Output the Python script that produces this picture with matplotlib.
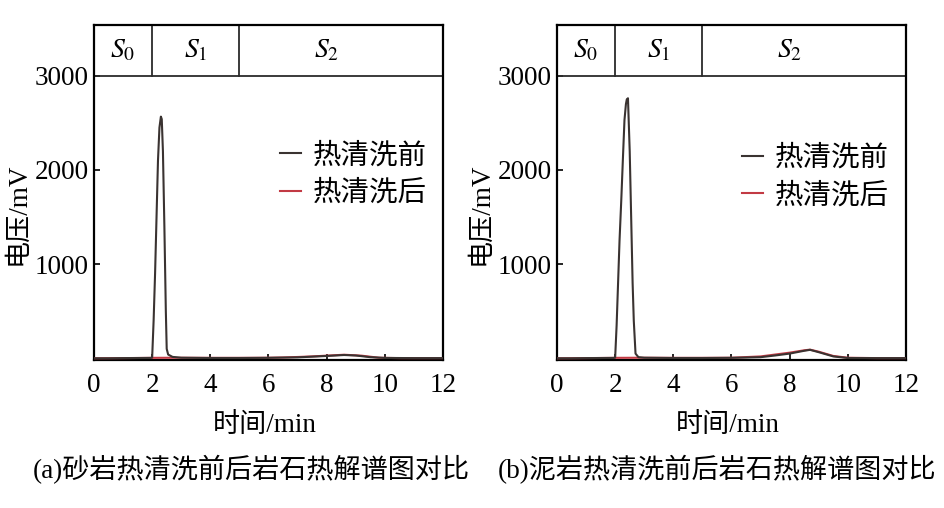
import matplotlib
matplotlib.use('Agg')
import matplotlib.pyplot as plt

plt.rcParams['font.family'] = ['Liberation Serif', 'Noto Sans CJK SC', 'DejaVu Sans']
plt.rcParams['mathtext.fontset'] = 'stix'

# --- 数据：砂岩 (a) ---
t_a_before = [0, 0.5, 1.0, 1.5, 1.95, 2.0, 2.05, 2.1, 2.15, 2.2, 2.25, 2.3, 2.33, 2.37, 2.42,
              2.47, 2.5, 2.55, 2.7, 3.0, 4.0, 5.0, 6.0, 7.0, 8.0, 8.6, 9.0, 9.5, 10.0, 11.0, 12.0]
v_a_before = [0, 0, 2, 3, 4, 10, 400, 900, 1500, 2100, 2450, 2567, 2540, 2200, 1400,
              500, 100, 40, 15, 6, 3, 3, 5, 10, 25, 35, 30, 12, 4, 2, 2]
t_a_after = [0, 1.0, 2.0, 3.0, 4.0, 5.0, 6.0, 6.5, 7.0, 7.5, 8.0, 8.6, 9.2, 9.8, 10.5, 12.0]
v_a_after = [0, 2, 5, 6, 5, 5, 6, 9, 14, 20, 28, 38, 28, 6, 2, 2]

# --- 数据：泥岩 (b) ---
t_b_before = [0, 0.5, 1.0, 1.5, 1.95, 2.0, 2.05, 2.1, 2.15, 2.21, 2.27, 2.32, 2.37, 2.4, 2.44,
              2.5, 2.55, 2.6, 2.64, 2.7, 2.8, 3.0, 4.0, 5.0, 6.0, 6.5, 7.0, 7.5, 8.0, 8.5,
              8.7, 9.0, 9.5, 10.0, 11.0, 12.0]
v_b_before = [0, 0, 2, 3, 4, 10, 350, 800, 1250, 1680, 2150, 2530, 2700, 2750, 2762,
              2200, 1500, 800, 400, 50, 12, 6, 3, 3, 5, 8, 12, 30, 50, 80,
              90, 65, 20, 3, 2, 2]
t_b_after = [0, 1.0, 2.0, 3.0, 4.0, 5.0, 6.0, 7.0, 7.5, 8.0, 8.5, 8.7, 9.0, 9.5, 10.0, 11.0, 12.0]
v_b_after = [0, 2, 5, 6, 5, 5, 6, 20, 40, 60, 85, 92, 70, 25, 6, 2, 2]

stage_edges = [0, 2, 5, 12]
stage_labels = [r'$S_0$', r'$S_1$', r'$S_2$']
stage_pos = [1.0, 3.5, 8.0]

legend_labels = ['热清洗前', '热清洗后']
captions = ['(a)砂岩热清洗前后岩石热解谱图对比', '(b)泥岩热清洗前后岩石热解谱图对比']

c_before = '#3a3331'
c_after = '#c23a44'

fig = plt.figure(figsize=(9.45, 5.08), dpi=100)
ax_a = fig.add_axes([94 / 945, 1 - 360 / 508, 349 / 945, 335 / 508])
ax_b = fig.add_axes([557 / 945, 1 - 360 / 508, 349 / 945, 335 / 508])

panels = [
    (ax_a, t_a_before, v_a_before, t_a_after, v_a_after, 0.533, 0.553),
    (ax_b, t_b_before, v_b_before, t_b_after, v_b_after, 0.529, 0.545),
]

for ax, tb, vb, ta, va, lx, ly in panels:
    ax.plot(ta, va, color=c_after, lw=1.5, label=legend_labels[1], zorder=3)
    ax.plot(tb, vb, color=c_before, lw=1.5, label=legend_labels[0], zorder=4)

    ax.set_xlim(0, 12)
    ax.set_ylim(-18, 3540)
    ax.set_xticks([0, 2, 4, 6, 8, 10, 12])
    ax.set_yticks([1000, 2000, 3000])
    ax.tick_params(direction='in', length=4, width=1.2, labelsize=19.5)
    ax.tick_params(axis='x', pad=9)
    ax.tick_params(axis='y', pad=4)
    for s in ax.spines.values():
        s.set_linewidth(1.6)

    # 阶段标注条
    ax.axhline(3000, color='#2b2b2b', lw=1.3)
    for e in stage_edges[1:-1]:
        ax.plot([e, e], [3000, 3540], color='#2b2b2b', lw=1.3)
    for lab, xp in zip(stage_labels, stage_pos):
        ax.text(xp, 3265, lab, ha='center', va='center', fontsize=20)

    handles, labels = ax.get_legend_handles_labels()
    ax.legend(handles[::-1], labels[::-1], loc='center left', bbox_to_anchor=(lx, ly),
              frameon=False, fontsize=20.5, handlelength=0.75, handletextpad=0.4,
              labelspacing=0.38, borderpad=0, borderaxespad=0)

    ax.set_xlabel('时间/min', fontsize=19.5)
    ax.xaxis.set_label_coords(0.49, -0.158)
    ax.set_ylabel('电压/mV', fontsize=19.5)

ax_a.yaxis.set_label_coords(-0.183, 0.436)
ax_b.yaxis.set_label_coords(-0.183, 0.436)

fig.text(33 / 945, 1 - 470 / 508, captions[0], ha='left', va='center', fontsize=19.5)
fig.text(498 / 945, 1 - 470 / 508, captions[1], ha='left', va='center', fontsize=19.5)

fig.savefig('out.png', dpi=100)
plt.close(fig)
